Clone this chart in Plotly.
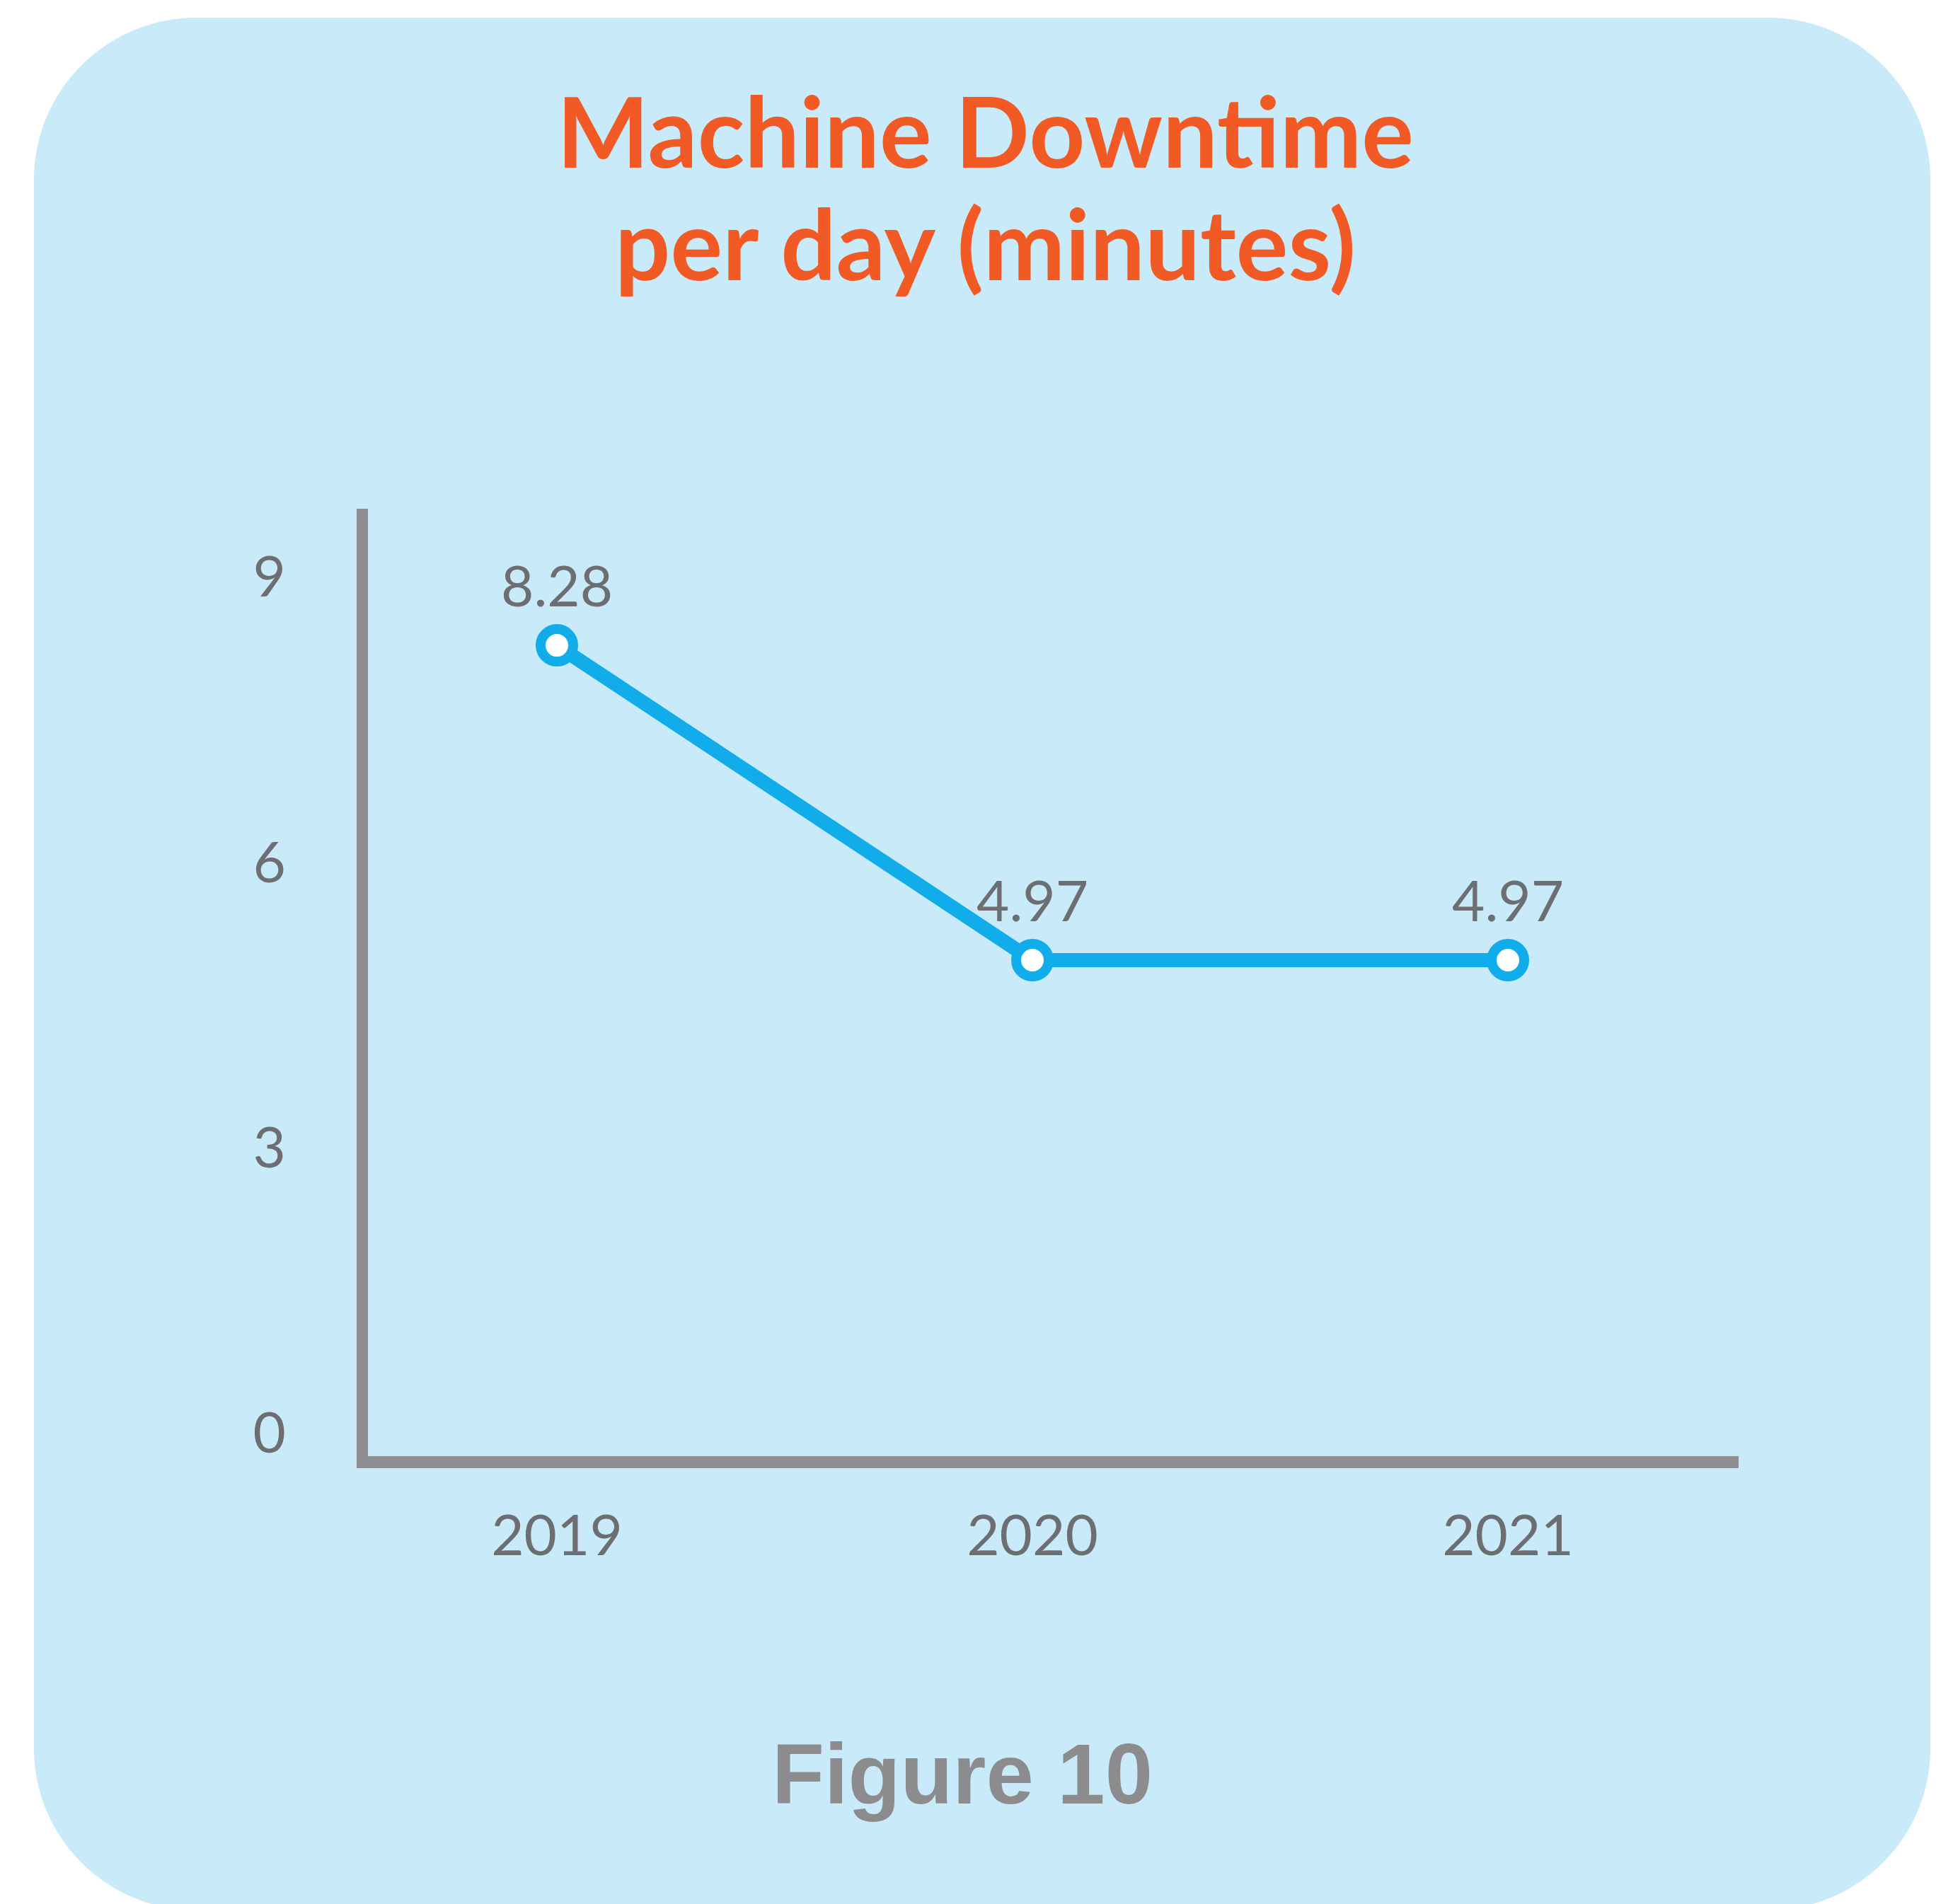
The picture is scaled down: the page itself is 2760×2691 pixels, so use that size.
import plotly.graph_objects as go

# ---- data -------------------------------------------------------------
years = [2019, 2020, 2021]
downtime_minutes = [8.28, 4.97, 4.97]
y_ticks = [0, 3, 6, 9]
title_lines = ["Machine Downtime", "per day (minutes)"]
figure_label = "Figure 10"

# ---- canvas -----------------------------------------------------------
W, H = 2760, 2691


def px(x):
    return x / W


def py(y):
    return 1 - y / H


CARD = "#C8EAF9"
ORANGE = "#F15A24"
BLUE = "#10ADEA"
AXIS_GREY = "#8E8E90"
TEXT_GREY = "#6D6E71"
LABEL_GREY = "#8C8C8E"


def rounded_rect(x0, y0, x1, y1, r):
    k = 0.5523 * r
    pts = [
        ("M", [(x0 + r, y0)]),
        ("L", [(x1 - r, y0)]),
        ("C", [(x1 - r + k, y0), (x1, y0 + r - k), (x1, y0 + r)]),
        ("L", [(x1, y1 - r)]),
        ("C", [(x1, y1 - r + k), (x1 - r + k, y1), (x1 - r, y1)]),
        ("L", [(x0 + r, y1)]),
        ("C", [(x0 + r - k, y1), (x0, y1 - r + k), (x0, y1 - r)]),
        ("L", [(x0, y0 + r)]),
        ("C", [(x0, y0 + r - k), (x0 + r - k, y0), (x0 + r, y0)]),
    ]
    out = []
    for cmd, coords in pts:
        out.append(cmd + " ".join(f"{px(a):.5f},{py(b):.5f}" for a, b in coords))
    return " ".join(out) + " Z"


fig = go.Figure()

fig.add_trace(
    go.Scatter(
        x=years,
        y=downtime_minutes,
        mode="lines+markers",
        line=dict(color=BLUE, width=20),
        marker=dict(size=46, color="white", line=dict(color=BLUE, width=14)),
        cliponaxis=False,
        showlegend=False,
        hoverinfo="skip",
    )
)

# value labels above each point
for yr, v in zip(years, downtime_minutes):
    fig.add_annotation(
        x=yr,
        y=v,
        xref="x",
        yref="y",
        text=f"{v:.2f}",
        showarrow=False,
        xanchor="center",
        yanchor="middle",
        yshift=86,
        font=dict(family="Lato", size=80, color=TEXT_GREY),
    )

# card background
fig.add_shape(
    type="path",
    xref="paper",
    yref="paper",
    path=rounded_rect(48, 25, 2728, 2712, 230),
    fillcolor=CARD,
    line=dict(width=0),
    layer="below",
)

# two-line title
title_pos = [(1393, 184), (1393, 344)]
for line, (cx, cy) in zip(title_lines, title_pos):
    fig.add_annotation(
        text=line,
        xref="paper",
        yref="paper",
        x=px(cx),
        y=py(cy),
        xanchor="center",
        yanchor="middle",
        showarrow=False,
        font=dict(family="Lato", size=138, color=ORANGE, weight=700),
    )

fig.add_annotation(
    text=figure_label,
    xref="paper",
    yref="paper",
    x=px(1360),
    y=py(2518),
    xanchor="center",
    yanchor="middle",
    showarrow=False,
    font=dict(family="Liberation Sans", size=121, color=LABEL_GREY, weight=700),
)

# pixel -> value mapping of the plotting area
y_zero_px, px_per_unit = 2034, 135
plot_top, plot_bottom = 722, 2067
x_mid_px, px_per_year = 1459, 672
plot_left, plot_right = 520, 2457

fig.update_layout(
    width=W,
    height=H,
    margin=dict(l=0, r=0, t=0, b=0),
    paper_bgcolor="white",
    plot_bgcolor="rgba(0,0,0,0)",
    xaxis=dict(
        domain=[px(plot_left), px(plot_right)],
        range=[
            2020 + (plot_left - x_mid_px) / px_per_year,
            2020 + (plot_right - x_mid_px) / px_per_year,
        ],
        tickvals=years,
        tickfont=dict(family="Lato", size=80, color=TEXT_GREY),
        showgrid=False,
        zeroline=False,
        showline=True,
        linecolor=AXIS_GREY,
        linewidth=17,
        ticks="",
        ticklabelstandoff=27,
    ),
    yaxis=dict(
        domain=[py(plot_bottom), py(plot_top)],
        range=[
            (y_zero_px - plot_bottom) / px_per_unit,
            (y_zero_px - plot_top) / px_per_unit,
        ],
        tickvals=y_ticks,
        tickfont=dict(family="Lato", size=80, color=TEXT_GREY),
        showgrid=False,
        zeroline=False,
        showline=True,
        linecolor=AXIS_GREY,
        linewidth=16,
        ticks="",
        ticklabelstandoff=84,
    ),
)

fig.write_html("out.html")
